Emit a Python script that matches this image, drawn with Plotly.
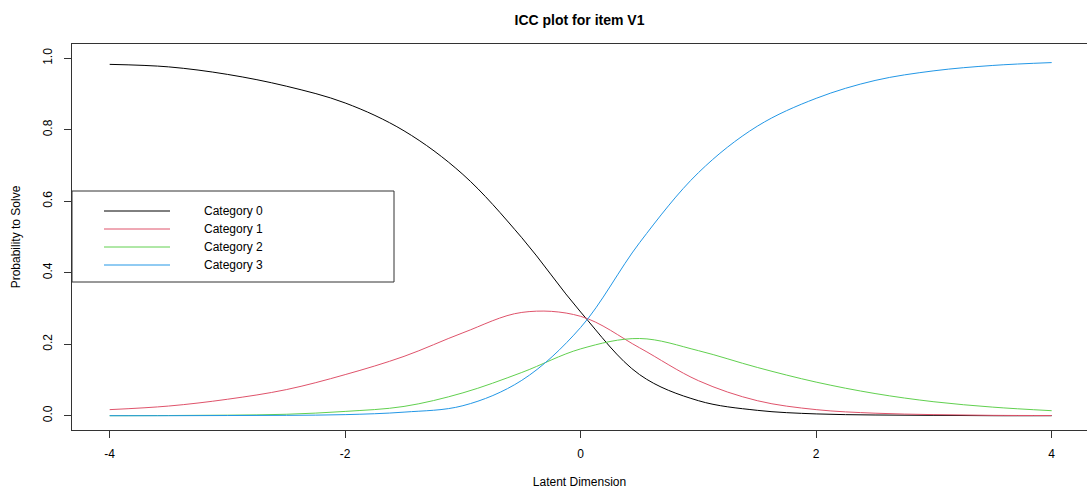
import plotly.graph_objects as go

# ---- data ----
theta = [-4, -3.5, -3, -2.5, -2, -1.5, -1, -0.5, 0, 0.5, 1, 1.5, 2, 2.5, 3, 3.5, 4]
cat0 = [0.983, 0.976, 0.955, 0.922, 0.875, 0.797, 0.675, 0.498, 0.290, 0.115, 0.042, 0.015, 0.005, 0.002, 0.001, 0.0, 0.0]
cat1 = [0.017, 0.027, 0.046, 0.073, 0.115, 0.166, 0.232, 0.289, 0.278, 0.190, 0.098, 0.042, 0.017, 0.007, 0.003, 0.001, 0.0005]
cat2 = [0.0, 0.0005, 0.0015, 0.004, 0.012, 0.026, 0.064, 0.121, 0.187, 0.216, 0.182, 0.135, 0.094, 0.062, 0.039, 0.024, 0.014]
cat3 = [0.0, 0.0, 0.0005, 0.001, 0.003, 0.010, 0.028, 0.099, 0.247, 0.484, 0.680, 0.810, 0.888, 0.938, 0.965, 0.980, 0.988]

series_names = ["Category 0", "Category 1", "Category 2", "Category 3"]
series_values = [cat0, cat1, cat2, cat3]
series_colors = ["#000000", "#DF536B", "#61D04F", "#2297E6"]

x_ticks = [-4, -2, 0, 2, 4]
y_ticks = [0.0, 0.2, 0.4, 0.6, 0.8, 1.0]

title_text = "ICC plot for item V1"
x_title = "Latent Dimension"
y_title = "Probability to Solve"

# ---- layout geometry (pixels) ----
W, H = 1087, 491
L, R, T, B = 72, 0, 44, 61
pw, ph = W - L - R, H - T - B

def px(xp):
    return (xp - L) / pw

def py(yp):
    return (H - B - yp) / ph

FONT = "Liberation Sans, Arial, sans-serif"
AXC = "#333333"

fig = go.Figure()
for name, vals, col in zip(series_names, series_values, series_colors):
    fig.add_trace(go.Scatter(
        x=theta, y=vals, mode="lines", name=name,
        line=dict(color=col, width=1, shape="spline", smoothing=1.0),
        showlegend=False, hoverinfo="x+y+name",
    ))

# manual legend (R-style)
shapes = [dict(type="rect", xref="paper", yref="paper",
               x0=px(72), x1=px(394), y0=py(282), y1=py(191),
               line=dict(color=AXC, width=1), fillcolor="rgba(255,255,255,1)", layer="below")]
annotations = []
row_y = [211, 229, 247, 265]
for name, col, ry in zip(series_names, series_colors, row_y):
    shapes.append(dict(type="line", xref="paper", yref="paper",
                       x0=px(104), x1=px(170), y0=py(ry), y1=py(ry),
                       line=dict(color=col, width=1)))
    annotations.append(dict(xref="paper", yref="paper", x=px(202), y=py(ry),
                            text=name, showarrow=False, xanchor="left", yanchor="middle",
                            font=dict(family=FONT, size=12, color="#000000")))

fig.update_layout(
    width=W, height=H,
    margin=dict(l=L, r=R, t=T, b=B, autoexpand=False),
    paper_bgcolor="white", plot_bgcolor="white",
    title=dict(text="<b>" + title_text + "</b>", x=0.5, xref="paper", xanchor="center",
               y=1 - 20 / H, yanchor="middle",
               font=dict(family=FONT, size=14, color="#000000")),
    font=dict(family=FONT, size=12, color="#000000"),
    shapes=shapes, annotations=annotations,
    xaxis=dict(range=[-4.32, 4.30], tickvals=x_ticks, ticktext=[str(v) for v in x_ticks],
               showline=True, mirror=True, linecolor=AXC, linewidth=1,
               ticks="outside", ticklen=7, tickcolor=AXC, tickwidth=1,
               showgrid=False, zeroline=False, ticklabelstandoff=6, automargin=False,
               title=dict(text=x_title, standoff=17, font=dict(size=12)),
               tickfont=dict(size=12)),
    yaxis=dict(range=[-0.04, 1.04], tickvals=y_ticks, ticktext=["%.1f" % v for v in y_ticks],
               showline=True, mirror=True, linecolor=AXC, linewidth=1,
               ticks="outside", ticklen=7, tickcolor=AXC, tickwidth=1, tickangle=-90,
               showgrid=False, zeroline=False, ticklabelstandoff=7, automargin=False,
               title=dict(text=y_title, standoff=18, font=dict(size=12)),
               tickfont=dict(size=12)),
)

fig.write_html("out.html",
               config={"displayModeBar": False},
               post_script="document.body.style.margin='0';document.body.style.overflow='hidden';")
